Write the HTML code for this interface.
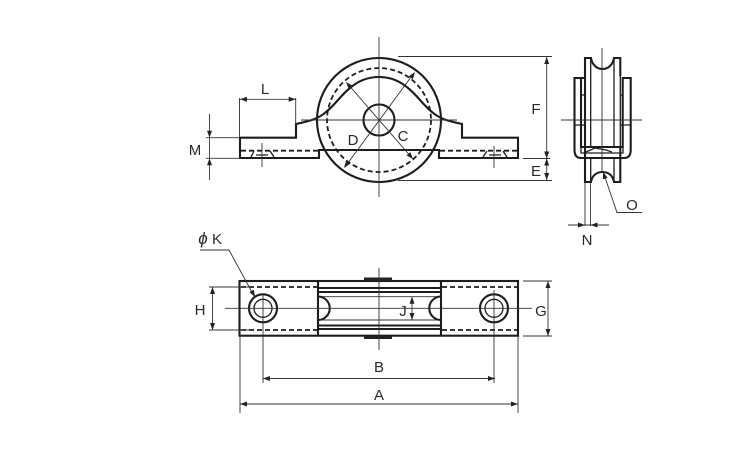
<!DOCTYPE html>
<html><head><meta charset="utf-8"><style>
html,body{margin:0;padding:0;background:#fff}
svg{display:block}
text{font-family:"Liberation Sans",sans-serif;font-size:15px;fill:#2a2a2a;text-anchor:middle}
.k{fill:none;stroke:#1d1d1d;stroke-width:2.100}
.d{fill:none;stroke:#1d1d1d;stroke-width:1.800;stroke-dasharray:5 3}
.t{fill:none;stroke:#333;stroke-width:.9}
.m{fill:none;stroke:#1d1d1d;stroke-width:1.300}
.a{fill:#222;stroke:none}
</style></head><body>
<svg width="750" height="450" viewBox="0 0 750 450" xmlns="http://www.w3.org/2000/svg">
<defs>
<path id="ar" class="a" d="M0 0L-7 -2.500L-7 2.500Z"/>
</defs>

<!-- TOP VIEW -->
<circle class="k" cx="379" cy="120" r="62"/>
<circle class="d" cx="379" cy="120" r="52"/>
<circle class="k" cx="379" cy="120" r="15.500"/>
<path class="k" d="M296 137.700V124C310 121 318 119 326 112C335 105 341 95 350 88C358 81 368 77 379 77C390 77 400 81 408 88C417 95 423 105 432 112C440 119 448 121 462 124V137.700H518V158H439V150H319V158H240V137.700Z"/>
<path class="d" d="M241 150.700H318M440 150.700H517"/>
<path class="m" d="M251 157L254 151M270 151L274 157M483 157L487 151M503 151L507 157M256 155H268M489 155H501"/>
<path class="t" d="M379 37V197M301 120H457M262 143V167M494 146V168"/>
<path class="t" d="M347 83L412 158M345 167L414 73"/>
<use href="#ar" transform="translate(346 82) rotate(229)"/>
<use href="#ar" transform="translate(413 159) rotate(49)"/>
<use href="#ar" transform="translate(415 72) rotate(-54)"/>
<use href="#ar" transform="translate(344 168) rotate(126)"/>
<text x="353" y="145">D</text>
<text x="403" y="141">C</text>

<!-- L, M, F, E -->
<path class="t" d="M239.500 98V137M295.700 98V124M240 99.300H295.700"/>
<use href="#ar" transform="translate(240 99.300) rotate(180)"/>
<use href="#ar" transform="translate(295.700 99.300)"/>
<text x="265" y="94">L</text>
<path class="t" d="M209.500 114V180M206 137.700H240M206 158.300H240"/>
<use href="#ar" transform="translate(209.500 137.700) rotate(90)"/>
<use href="#ar" transform="translate(209.500 158.300) rotate(-90)"/>
<text x="195" y="155">M</text>
<path class="t" d="M398 56.500H552M398 180.500H552M523 158.500H550M546.700 57V180"/>
<use href="#ar" transform="translate(546.700 57) rotate(-90)"/>
<use href="#ar" transform="translate(546.700 158.500) rotate(90)"/>
<use href="#ar" transform="translate(546.700 158.500) rotate(-90)"/>
<use href="#ar" transform="translate(546.700 180) rotate(90)"/>
<text x="536" y="114">F</text>
<text x="536" y="176">E</text>

<!-- SIDE VIEW -->
<path class="k" d="M585 158V58H591C592 64 596 69 602.500 69C609 69 613 64 614 58H620.300V76M620.300 147V158M585 158V182H591C592 176 596 172 602.500 172C609 172 613 176 614 182H620.300V158"/>
<path class="m" d="M590.700 58V147M614 58V147M590.700 158V182M614 158V182M620.300 76V147"/>
<path class="k" d="M585 78H574.500V150Q574.500 158 581 158H624Q630.700 158 630.700 150V78H622.700V147H581V78"/>
<path class="m" d="M581 147V153H623V147M581 125H574.500M581 95H585M581 125H585M620 95H623M620 125H623M623 125H630"/>
<path class="m" d="M586 152L595 148L606 150L612 152"/>
<path class="t" d="M602 48V172M561 120H642"/>
<path class="t" d="M585 182V226M590.500 182V226M568 225H609"/>
<use href="#ar" transform="translate(585 225)"/>
<use href="#ar" transform="translate(590.500 225) rotate(180)"/>
<text x="587" y="245">N</text>
<path class="t" d="M603.500 173L617 212.500H642"/>
<use href="#ar" transform="translate(603 172) rotate(251)"/>
<text x="632" y="210">O</text>

<!-- BOTTOM VIEW -->
<rect class="k" x="239.500" y="281" width="278.500" height="54.700"/>
<path class="k" d="M318 281V335.700M441 281V335.700"/>
<path class="d" d="M241 287H317M442 287H517M241 330H317M442 330H517"/>
<path class="k" d="M318 288H441M318 329H441M318 292H441M318 325.500H441"/>
<path class="t" d="M318 296.700H441M318 320H441"/>
<rect class="a" x="364" y="277.500" width="28" height="3.500"/>
<rect class="a" x="364" y="336" width="28" height="3"/>
<path class="k" d="M318 296.500A11.500 11.500 0 0 1 318 320M441 296.500A11.500 11.500 0 0 0 441 320"/>
<circle class="k" cx="263" cy="308.300" r="14"/>
<circle class="m" cx="263" cy="308.300" r="9"/>
<circle class="k" cx="494" cy="308.300" r="14"/>
<circle class="m" cx="494" cy="308.300" r="9"/>
<path class="t" d="M225 308.300H532"/>
<path class="t" d="M379 268V350"/>
<path class="t" d="M263 294V383M494 290V383M240 336V413M518 336V413"/>
<path class="t" d="M263 378.500H495M240 404H518"/>
<use href="#ar" transform="translate(263 378.500) rotate(180)"/>
<use href="#ar" transform="translate(495 378.500)"/>
<use href="#ar" transform="translate(240 404) rotate(180)"/>
<use href="#ar" transform="translate(518 404)"/>
<text x="379" y="372">B</text>
<text x="379" y="400">A</text>
<path class="t" d="M209 287H250M209 330H250M212.500 287V330"/>
<use href="#ar" transform="translate(212.500 287) rotate(-90)"/>
<use href="#ar" transform="translate(212.500 330) rotate(90)"/>
<text x="200" y="315">H</text>
<path class="t" d="M523 281H552M523 336H552M548 281V336"/>
<use href="#ar" transform="translate(548 281) rotate(-90)"/>
<use href="#ar" transform="translate(548 336) rotate(90)"/>
<text x="541" y="316">G</text>
<path class="t" d="M412 296.700V320"/>
<use href="#ar" transform="translate(412 296.700) rotate(-90)"/>
<use href="#ar" transform="translate(412 320) rotate(90)"/>
<text x="403" y="316">J</text>
<path class="t" d="M200 250H229L254 296"/>
<use href="#ar" transform="translate(255 297) rotate(61)"/>
<text x="203" y="244" style="font-size:17px;font-style:italic">ϕ</text>
<text x="217" y="244">K</text>
</svg>
</body></html>
